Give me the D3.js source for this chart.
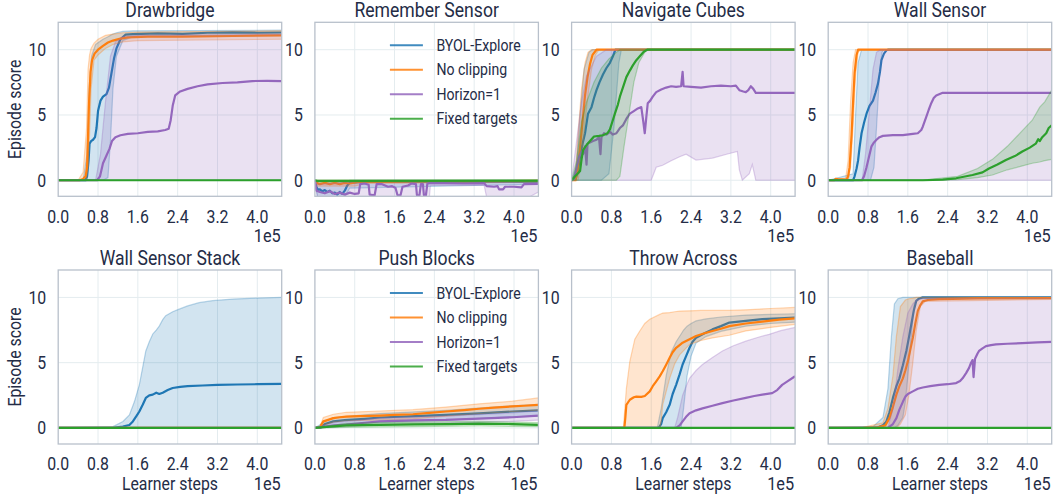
<!DOCTYPE html>
<html>
<head>
<meta charset="utf-8">
<script src="https://cdn.jsdelivr.net/npm/d3@7"></script>
<style>
  html, body { margin: 0; padding: 0; background: #ffffff; }
  svg { display: block; }
</style>
</head>
<body>
<svg id="chart" width="1055" height="496"></svg>
<script>
// ---------- labels and ticks ----------
const panelTitles = ["Drawbridge", "Remember Sensor", "Navigate Cubes", "Wall Sensor",
                     "Wall Sensor Stack", "Push Blocks", "Throw Across", "Baseball"];
const seriesNames = ["BYOL-Explore", "No clipping", "Horizon=1", "Fixed targets"];
const seriesColors = ["#1f77b4", "#ff7f0e", "#9467bd", "#2ca02c"];
const xTicks = [0.0, 0.8, 1.6, 2.4, 3.2, 4.0];
const xTickLabels = ["0.0", "0.8", "1.6", "2.4", "3.2", "4.0"];
const yTicks = [0, 5, 10];
const xLabel = "Learner steps";
const yLabel = "Episode score";
const xExponent = "1e5";

// ---------- series: mean [step(1e5), score], band [step, low, high] ----------
const flatZero = [[0, 0], [4.49, 0]];
const flatZeroBand = [[0, 0, 0], [4.49, 0, 0]];

// Drawbridge
const drawbridge_byol = [[0,0],[0.55,0],[0.58,0.3],[0.61,1.5],[0.63,2.8],[0.66,3.0],[0.7,3.1],[0.74,3.3],[0.77,4.0],[0.8,5.3],[0.85,6.1],[0.9,6.4],[0.97,6.6],[1.02,7.1],[1.07,8.2],[1.12,9.3],[1.17,10.1],[1.25,10.8],[1.35,11.15],[1.5,11.2],[2.0,11.25],[2.5,11.22],[3.0,11.3],[3.5,11.33],[4.0,11.3],[4.49,11.32]];
const drawbridge_byol_band = [[0,0,0],[0.5,0,0],[0.58,0,2],[0.62,0,7],[0.67,0,9.5],[0.75,0,10.4],[0.9,0,10.8],[1.0,0.2,11.0],[1.05,3,11.1],[1.1,7,11.2],[1.17,9.5,11.3],[1.3,10.7,11.4],[1.5,11.0,11.45],[4.49,11.1,11.5]];
const drawbridge_noclip = [[0,0],[0.43,0],[0.5,0.1],[0.55,0.3],[0.58,1],[0.6,3.5],[0.62,6],[0.65,8.3],[0.68,9.2],[0.73,9.7],[0.8,10.0],[0.9,10.3],[1.0,10.55],[1.1,10.7],[1.25,10.85],[1.4,10.95],[1.8,11.0],[2.5,11.0],[3.5,11.05],[4.49,11.1]];
const drawbridge_noclip_band = [[0,0,0],[0.4,0,0],[0.5,0,0.6],[0.57,0.1,4],[0.6,1,8.5],[0.63,3.5,9.6],[0.66,7,10.1],[0.72,9.2,10.5],[0.8,9.6,10.8],[0.95,10.1,11.1],[1.1,10.4,11.2],[1.3,10.6,11.3],[1.6,10.7,11.35],[4.49,10.8,11.45]];
const drawbridge_horizon = [[0,0],[0.78,0],[0.84,0.3],[0.9,1.3],[0.97,1.9],[1.03,2.4],[1.08,3.0],[1.15,3.3],[1.25,3.45],[1.4,3.55],[1.6,3.6],[1.8,3.7],[2.0,3.75],[2.15,3.85],[2.22,3.95],[2.26,4.6],[2.3,5.7],[2.35,6.5],[2.45,6.8],[2.6,7.0],[2.8,7.2],[3.0,7.35],[3.3,7.45],[3.6,7.5],[3.9,7.6],[4.2,7.62],[4.49,7.6]];
const drawbridge_horizon_band = [[0,0,0],[0.75,0,0],[0.85,0,2],[0.95,0,6],[1.05,0,9.5],[1.15,0,10.6],[1.3,0,11.0],[1.6,0,11.1],[4.49,0,11.2]];

// Remember Sensor
const remember_byol = [[0,0],[0.03,-0.5],[0.06,-0.75],[0.1,-0.7],[0.15,-0.85],[0.2,-0.75],[0.25,-0.9],[0.3,-0.8],[0.35,-1.0],[0.4,-0.95],[0.45,-1.1],[0.5,-0.9],[0.55,-1.05],[0.6,-0.8],[0.65,-0.4],[0.7,-0.2],[1.0,-0.1],[4.49,-0.1]];
const remember_byol_band = [[0,0,0],[0.05,-1.3,-0.1],[0.6,-1.3,-0.1],[0.7,-0.6,0],[4.49,-0.3,0]];
const remember_noclip = [[0,0],[0.03,-0.2],[0.1,-0.3],[0.2,-0.2],[0.3,-0.3],[0.4,-0.2],[0.5,-0.3],[0.6,-0.2],[0.7,-0.25],[0.85,-0.15],[1.0,-0.1],[1.5,-0.12],[2.0,-0.08],[4.49,-0.05]];
const remember_noclip_band = [[0,0,0],[0.05,-0.45,0],[0.8,-0.45,0],[1.0,-0.25,0],[4.49,-0.15,0]];
const remember_horizon = [[0,0],[0.03,-0.8],[0.1,-0.9],[0.2,-1.0],[0.3,-0.85],[0.4,-1.05],[0.5,-0.95],[0.6,-1.1],[0.7,-0.95],[0.8,-1.05],[0.88,-1.0],[0.91,-0.3],[1.0,-0.25],[1.08,-0.35],[1.1,-1.1],[1.2,-1.15],[1.24,-0.3],[1.35,-0.3],[1.47,-0.5],[1.55,-0.45],[1.62,-0.6],[1.66,-1.15],[1.72,-1.15],[1.76,-0.5],[1.87,-0.4],[1.94,-0.25],[2.03,-0.3],[2.05,-1.15],[2.1,-1.15],[2.13,-0.3],[2.17,-0.3],[2.19,-1.15],[2.23,-1.15],[2.26,-0.25],[2.31,-0.22],[2.6,-0.22],[3.0,-0.25],[3.4,-0.22],[3.45,-0.45],[3.6,-0.5],[3.67,-0.45],[3.7,-0.7],[3.78,-0.7],[3.82,-0.5],[4.0,-0.5],[4.15,-0.55],[4.2,-0.3],[4.49,-0.28]];
const remember_horizon_band = [[0,0,0],[0.05,-1.3,-0.3],[0.9,-1.3,-0.1],[2.3,-1.3,-0.1],[2.32,-0.4,-0.1],[3.4,-0.4,-0.1],[3.45,-1.3,-0.15],[4.3,-1.3,-0.1],[4.49,-0.9,-0.1]];
const remember_fixed = [[0,0],[0.05,-0.05],[4.49,-0.03]];
const remember_fixed_band = [[0,0,0],[0.05,-0.12,0],[4.49,-0.1,0]];

// Navigate Cubes
const navigate_byol = [[0,0],[0.08,0.1],[0.12,0.6],[0.17,1.8],[0.22,2.8],[0.27,3.6],[0.33,5.1],[0.4,5.6],[0.45,6.3],[0.5,6.9],[0.56,7.5],[0.63,8.1],[0.7,8.6],[0.77,9.0],[0.83,9.5],[0.88,10.0],[4.49,10.0]];
const navigate_byol_band = [[0,0,0],[0.1,0,1],[0.17,0,5],[0.25,0,8.5],[0.35,0,9.8],[0.42,0,10],[0.6,0,10],[0.75,0.5,10],[0.85,4,10],[0.95,9,10],[1.0,10,10],[4.49,10,10]];
const navigate_noclip = [[0,0],[0.08,0],[0.12,0.8],[0.17,2.5],[0.22,4.5],[0.27,6.5],[0.32,7.9],[0.37,8.9],[0.42,9.6],[0.5,10],[4.49,10]];
const navigate_noclip_band = [[0,0,0],[0.08,0,0.5],[0.13,0,3.5],[0.2,1.5,7],[0.27,4.5,9],[0.33,6.5,9.8],[0.4,8.5,10],[0.48,9.6,10],[0.55,10,10],[4.49,10,10]];
const navigate_horizon = [[0,0],[0.05,0.1],[0.1,1.0],[0.15,1.8],[0.2,2.2],[0.23,2.0],[0.27,2.6],[0.3,1.2],[0.32,2.8],[0.37,2.9],[0.43,3.0],[0.5,3.1],[0.55,3.3],[0.58,2.0],[0.6,3.3],[0.65,3.6],[0.7,3.5],[0.77,3.7],[0.83,3.5],[0.9,3.6],[0.97,4.0],[1.03,4.2],[1.1,4.7],[1.17,5.1],[1.25,5.3],[1.33,5.5],[1.4,5.6],[1.44,4.5],[1.47,3.6],[1.5,4.8],[1.53,5.9],[1.58,6.1],[1.63,6.4],[1.7,6.75],[1.8,6.95],[1.9,7.1],[2.0,7.2],[2.1,7.15],[2.2,7.2],[2.23,8.3],[2.25,7.2],[2.4,7.15],[2.6,7.1],[2.8,7.2],[3.0,7.25],[3.2,7.2],[3.3,7.25],[3.37,6.9],[3.45,6.8],[3.5,6.75],[3.55,6.9],[3.6,7.2],[3.65,7.0],[3.7,6.7],[4.0,6.7],[4.49,6.7]];
const navigate_horizon_band = [[0,0,0],[0.1,0,3],[0.2,0,6],[0.3,0,8],[0.5,0,9.5],[0.7,0,10],[1.6,0,10],[1.63,0.3,10],[1.7,1.0,10],[1.83,1.15,10],[2.0,1.5,10],[2.17,1.8,10],[2.3,2.0,10],[2.5,1.55,10],[2.83,1.7,10],[3.17,2.05,10],[3.33,2.2,10],[3.37,0.8,10],[3.43,0,10],[3.57,0.5,10],[3.63,1.2,10],[3.7,0,10],[4.49,0,10]];
const navigate_fixed = [[0,0],[0.07,0.3],[0.12,0.5],[0.17,0.7],[0.2,1.6],[0.23,2.3],[0.3,2.7],[0.37,3.0],[0.45,3.35],[0.55,3.4],[0.63,3.45],[0.72,3.6],[0.77,3.9],[0.82,4.5],[0.87,5.1],[0.93,5.8],[0.97,6.4],[1.03,7.1],[1.1,7.9],[1.17,8.4],[1.23,8.8],[1.3,9.2],[1.37,9.5],[1.45,9.85],[1.52,10],[4.49,10]];
const navigate_fixed_band = [[0,0,0],[0.1,0,1.5],[0.2,0,4.5],[0.3,0,6],[0.45,0,7.5],[0.6,0,8.6],[0.75,0,9.3],[0.9,0,9.8],[0.97,0.3,10],[1.05,2.5,10],[1.15,5,10],[1.25,7.5,10],[1.35,9,10],[1.5,10,10],[4.49,10,10]];

// Wall Sensor
const wall_byol = [[0,0],[0.5,0],[0.53,0.3],[0.57,0.9],[0.6,1.5],[0.63,2.5],[0.67,3.6],[0.72,4.4],[0.77,5.1],[0.83,5.7],[0.9,6.1],[0.95,6.7],[1.0,7.4],[1.04,8.3],[1.07,9.2],[1.12,9.7],[1.17,9.95],[1.2,10],[4.49,10]];
const wall_byol_band = [[0,0,0],[0.5,0,0.5],[0.55,0,5],[0.6,0,9],[0.67,0,10],[0.85,0,10],[0.92,1,10],[0.97,4,10],[1.03,8,10],[1.08,9.8,10],[1.12,10,10],[4.49,10,10]];
const wall_noclip = [[0,0],[0.12,0],[0.15,0.1],[0.2,0.08],[0.37,0.05],[0.4,0.3],[0.43,1.0],[0.47,3.5],[0.5,6.0],[0.53,8.2],[0.57,9.6],[0.6,10],[4.49,10]];
const wall_noclip_band = [[0,0,0],[0.35,0,0.1],[0.4,0,1.5],[0.45,1,6],[0.5,4,9],[0.55,8,10],[0.6,9.8,10],[0.65,10,10],[4.49,10,10]];
const wall_horizon = [[0,0],[0.68,0],[0.72,0.3],[0.77,1.0],[0.82,1.8],[0.87,2.6],[0.92,2.9],[0.97,3.1],[1.03,3.3],[1.1,3.4],[1.3,3.45],[1.5,3.45],[1.7,3.55],[1.8,3.6],[1.87,3.85],[1.9,4.1],[1.97,4.85],[2.02,5.4],[2.07,5.9],[2.12,6.3],[2.17,6.5],[2.3,6.7],[4.49,6.7]];
const wall_horizon_band = [[0,0,0],[0.68,0,0],[0.75,0,2],[0.82,0,5],[0.9,0,8.5],[0.97,0,9.8],[1.05,0,10],[4.49,0,10]];
const wall_fixed = [[0,0],[1.9,0],[2.3,0.05],[2.57,0.15],[2.9,0.4],[3.1,0.6],[3.23,0.9],[3.4,1.2],[3.57,1.55],[3.75,1.85],[3.9,2.2],[4.05,2.5],[4.17,2.8],[4.22,3.15],[4.25,3.0],[4.3,3.3],[4.38,3.6],[4.43,4.0],[4.49,4.2]];
const wall_fixed_band = [[0,0,0],[2.0,0,0.05],[2.6,0.05,0.3],[3.0,0.2,0.9],[3.3,0.4,1.6],[3.6,0.8,2.6],[3.9,1.1,3.8],[4.1,1.3,4.6],[4.25,1.4,5.6],[4.35,1.5,6.0],[4.49,1.6,6.9]];

// Wall Sensor Stack
const stack_byol = [[0,0],[1.1,0],[1.3,0.1],[1.43,0.23],[1.5,0.5],[1.57,0.9],[1.63,1.26],[1.7,1.8],[1.76,2.3],[1.83,2.5],[1.9,2.55],[1.97,2.7],[2.03,2.6],[2.1,2.7],[2.2,2.9],[2.3,3.06],[2.45,3.15],[2.6,3.2],[2.9,3.25],[3.2,3.3],[3.6,3.33],[4.0,3.35],[4.49,3.37]];
const stack_byol_band = [[0,0,0],[1.1,0,0.1],[1.3,0,0.5],[1.43,0,1.0],[1.53,0,2.0],[1.63,0,3.3],[1.7,0,4.7],[1.76,0,5.9],[1.83,0,6.6],[1.9,0,7.2],[1.97,0,7.5],[2.03,0,7.8],[2.1,0,8.3],[2.16,0,8.6],[2.3,0,8.9],[2.43,0,9.1],[2.6,0,9.35],[2.83,0,9.6],[3.1,0,9.75],[3.5,0,9.87],[4.0,0,9.95],[4.49,0,10.0]];

// Push Blocks
const push_byol = [[0,0],[0.12,0.05],[0.2,0.3],[0.37,0.5],[0.6,0.6],[1.0,0.7],[1.3,0.8],[2.0,0.9],[2.63,1.0],[3.3,1.12],[3.97,1.26],[4.49,1.34]];
const push_byol_band = [[0,0,0],[0.2,0.1,0.5],[0.37,0.2,0.8],[1.3,0.45,1.1],[2.63,0.6,1.35],[3.97,0.85,1.7],[4.49,0.9,1.8]];
const push_noclip = [[0,0],[0.1,0.05],[0.17,0.5],[0.25,0.6],[0.37,0.75],[0.5,0.82],[0.63,0.87],[0.9,0.9],[1.3,0.95],[1.6,1.0],[1.97,1.05],[2.3,1.15],[2.63,1.26],[3.0,1.37],[3.3,1.47],[3.6,1.55],[3.97,1.65],[4.2,1.7],[4.49,1.77]];
const push_noclip_band = [[0,0,0],[0.1,0,0.1],[0.17,0.2,0.8],[0.37,0.45,1.05],[0.63,0.55,1.2],[1.3,0.6,1.3],[1.97,0.7,1.4],[2.63,0.9,1.6],[3.3,1.1,1.85],[3.97,1.25,2.05],[4.49,1.35,2.3]];
const push_horizon = [[0,0],[0.2,0.1],[0.4,0.2],[0.63,0.25],[1.0,0.4],[1.3,0.5],[2.0,0.58],[2.63,0.62],[3.3,0.72],[3.97,0.82],[4.49,0.95]];
const push_horizon_band = [[0,0,0],[0.4,0.05,0.4],[1.3,0.25,0.75],[2.63,0.35,0.9],[3.97,0.5,1.15],[4.49,0.6,1.3]];
const push_fixed = [[0,0],[0.3,0.1],[0.63,0.2],[1.3,0.23],[2.0,0.28],[2.7,0.3],[3.3,0.33],[3.97,0.3],[4.49,0.23]];
const push_fixed_band = [[0,0,0],[0.63,0.05,0.35],[2.0,0.1,0.45],[3.3,0.15,0.5],[4.49,0.1,0.4]];

// Throw Across
const throw_byol = [[0,0],[1.75,0],[1.8,0.3],[1.83,0.75],[1.9,1.2],[1.97,1.77],[2.03,2.6],[2.1,3.3],[2.17,4.1],[2.23,4.86],[2.3,5.5],[2.37,6.14],[2.43,6.6],[2.5,6.9],[2.67,7.25],[2.83,7.55],[3.0,7.8],[3.17,8.07],[3.5,8.2],[3.83,8.33],[4.17,8.4],[4.49,8.46]];
const throw_byol_band = [[0,0,0],[1.72,0,0],[1.8,0,1.5],[1.9,0,4],[2.0,0,5.8],[2.1,0,6.6],[2.2,0,7.2],[2.25,1.5,7.5],[2.32,4,7.8],[2.4,5.5,8.0],[2.5,6.5,8.2],[2.7,7.0,8.35],[3.0,7.4,8.5],[3.5,7.8,8.65],[4.0,8.0,8.7],[4.49,8.1,8.75]];
const throw_noclip = [[0,0],[1.06,0],[1.08,0.8],[1.1,1.77],[1.17,2.16],[1.25,2.35],[1.3,2.4],[1.4,2.38],[1.47,2.45],[1.57,2.8],[1.63,3.2],[1.7,3.57],[1.77,3.95],[1.83,4.34],[1.9,4.85],[1.97,5.37],[2.03,5.8],[2.1,6.14],[2.17,6.35],[2.23,6.53],[2.37,6.8],[2.5,7.04],[2.67,7.25],[2.83,7.43],[3.0,7.6],[3.17,7.8],[3.5,8.0],[3.83,8.15],[4.17,8.3],[4.49,8.4]];
const throw_noclip_band = [[0,0,0],[1.04,0,0],[1.1,0,3.0],[1.17,0,5.1],[1.27,0,6.8],[1.37,0,7.43],[1.47,0,8.0],[1.57,0,8.33],[1.77,0,8.7],[1.8,0.5,8.75],[1.83,1.77,8.8],[1.97,3.8,8.84],[2.07,4.9,8.9],[2.17,5.6,8.95],[2.37,6.4,8.97],[2.6,6.7,9.0],[2.83,6.9,9.0],[3.17,7.1,9.0],[3.5,7.43,9.05],[4.0,7.7,9.15],[4.49,7.94,9.23]];
const throw_horizon = [[0,0],[2.1,0],[2.17,0.2],[2.23,0.5],[2.3,0.85],[2.37,1.13],[2.5,1.35],[2.63,1.5],[2.83,1.7],[3.03,1.9],[3.25,2.1],[3.5,2.3],[3.67,2.45],[3.83,2.55],[4.03,2.67],[4.13,2.9],[4.23,3.3],[4.35,3.6],[4.49,3.96]];
const throw_horizon_band = [[0,0,0],[2.07,0,0],[2.13,0,0.8],[2.23,0,2.5],[2.3,0,3.2],[2.37,0,3.8],[2.5,0,4.4],[2.63,0,4.86],[2.83,0,5.4],[3.03,0,5.9],[3.25,0,6.3],[3.5,0,6.65],[3.75,0,6.95],[3.97,0,7.17],[4.2,0,7.45],[4.49,0,7.7]];

// Baseball
const baseball_byol = [[0,0],[0.9,0],[1.0,0.05],[1.1,0.2],[1.17,0.5],[1.23,1.2],[1.3,2.3],[1.37,3.2],[1.43,3.8],[1.5,4.8],[1.57,5.9],[1.62,6.9],[1.67,7.94],[1.72,9.0],[1.77,9.74],[1.83,9.92],[1.9,10],[4.49,10]];
const baseball_byol_band = [[0,0,0],[0.9,0,0.1],[1.1,0,0.8],[1.2,0,3],[1.27,0,7],[1.33,0,9.5],[1.4,0.2,9.9],[1.5,0.8,10],[1.55,2,10],[1.6,4,10],[1.67,7,10],[1.73,9.5,10],[1.8,9.9,10],[4.49,10,10]];
const baseball_noclip = [[0,0],[0.7,0],[1.0,0.05],[1.15,0.2],[1.23,0.75],[1.3,1.6],[1.37,2.55],[1.43,3.2],[1.5,3.8],[1.55,4.4],[1.6,5.1],[1.65,6.0],[1.7,6.9],[1.75,8.0],[1.8,8.97],[1.85,9.4],[1.9,9.7],[2.0,9.8],[2.23,9.87],[3.0,9.92],[4.49,9.95]];
const baseball_noclip_band = [[0,0,0],[0.7,0,0.05],[1.1,0,0.4],[1.2,0,1.5],[1.3,0,4],[1.37,0,7],[1.45,0.3,9.3],[1.55,1,9.8],[1.62,2.5,9.9],[1.7,5,9.95],[1.77,7.5,10],[1.85,9.3,10],[1.95,9.7,10],[4.49,9.85,10]];
const baseball_horizon = [[0,0],[1.2,0],[1.3,0.3],[1.37,0.75],[1.43,1.4],[1.5,2.0],[1.55,2.4],[1.6,2.6],[1.7,2.8],[1.8,3.0],[1.9,3.1],[2.05,3.2],[2.23,3.3],[2.4,3.35],[2.57,3.44],[2.65,3.6],[2.7,3.8],[2.77,4.2],[2.83,4.6],[2.87,5.0],[2.9,5.2],[2.92,3.9],[2.95,5.3],[3.0,5.7],[3.03,5.9],[3.1,6.1],[3.17,6.27],[3.27,6.35],[3.37,6.4],[3.6,6.45],[3.9,6.5],[4.2,6.55],[4.49,6.6]];
const baseball_horizon_band = [[0,0,0],[1.2,0,0],[1.3,0,1.5],[1.4,0,4.5],[1.5,0,7],[1.6,0,8.8],[1.7,0,9.5],[1.77,0,9.8],[1.9,0,9.9],[4.49,0,9.95]];

// panel -> [mean, band] for each series in legend order
const panelSeries = [
  [[drawbridge_byol, drawbridge_byol_band], [drawbridge_noclip, drawbridge_noclip_band], [drawbridge_horizon, drawbridge_horizon_band], [flatZero, flatZeroBand]],
  [[remember_byol, remember_byol_band], [remember_noclip, remember_noclip_band], [remember_horizon, remember_horizon_band], [remember_fixed, remember_fixed_band]],
  [[navigate_byol, navigate_byol_band], [navigate_noclip, navigate_noclip_band], [navigate_horizon, navigate_horizon_band], [navigate_fixed, navigate_fixed_band]],
  [[wall_byol, wall_byol_band], [wall_noclip, wall_noclip_band], [wall_horizon, wall_horizon_band], [wall_fixed, wall_fixed_band]],
  [[stack_byol, stack_byol_band], [flatZero, flatZeroBand], [flatZero, flatZeroBand], [flatZero, flatZeroBand]],
  [[push_byol, push_byol_band], [push_noclip, push_noclip_band], [push_horizon, push_horizon_band], [push_fixed, push_fixed_band]],
  [[throw_byol, throw_byol_band], [throw_noclip, throw_noclip_band], [throw_horizon, throw_horizon_band], [flatZero, flatZeroBand]],
  [[baseball_byol, baseball_byol_band], [baseball_noclip, baseball_noclip_band], [baseball_horizon, baseball_horizon_band], [flatZero, flatZeroBand]]
];
const legendPanels = [1, 5];

// ---------- layout ----------
const colLeft = [58.2, 314.9, 571.6, 828.2];
const rowTop = [22.3, 270];
const plotW = 223.5, plotH = 174;
const xDomain = [0, 4.49];
const yDomain = [-1.23, 12.1];
const textColor = "#242c46";
const frameColor = "#b8c0cb";
const gridColor = "#e4ecef";
const fontFamily = "Roboto, 'Noto Sans', sans-serif";
const squeeze = 0.88;   // horizontal condensing of all text

const svg = d3.select("#chart");

function label(parent, x, y, str, size, anchor, rotate) {
  const g = parent.append("g")
    .attr("transform", `translate(${x},${y})` + (rotate ? ` rotate(${rotate})` : "") + ` scale(${squeeze},1)`);
  g.append("text")
    .attr("x", 0).attr("y", 0)
    .attr("text-anchor", anchor)
    .attr("font-family", fontFamily)
    .attr("font-size", size)
    .attr("fill", textColor)
    .text(str);
  return g;
}

panelTitles.forEach((title, p) => {
  const row = Math.floor(p / 4), col = p % 4;
  const left = colLeft[col], top = rowTop[row];
  const x = d3.scaleLinear().domain(xDomain).range([left, left + plotW]);
  const y = d3.scaleLinear().domain(yDomain).range([top + plotH, top]);
  const g = svg.append("g");

  // clip region
  const clipId = "clip" + p;
  svg.append("clipPath").attr("id", clipId)
    .append("rect").attr("x", left).attr("y", top).attr("width", plotW).attr("height", plotH);

  // grid
  const grid = g.append("g");
  grid.selectAll("line.v").data(xTicks.filter(t => t > 0)).join("line")
    .attr("x1", d => x(d)).attr("x2", d => x(d))
    .attr("y1", top).attr("y2", top + plotH)
    .attr("stroke", gridColor).attr("stroke-width", 1);
  grid.selectAll("line.h").data(yTicks).join("line")
    .attr("x1", left).attr("x2", left + plotW)
    .attr("y1", d => y(d)).attr("y2", d => y(d))
    .attr("stroke", gridColor).attr("stroke-width", 1);

  // series
  const plot = g.append("g").attr("clip-path", `url(#${clipId})`);
  const area = d3.area().x(d => x(d[0])).y0(d => y(d[1])).y1(d => y(d[2]));
  const lowLine = d3.line().x(d => x(d[0])).y(d => y(d[1]));
  const highLine = d3.line().x(d => x(d[0])).y(d => y(d[2]));
  const meanLine = d3.line().x(d => x(d[0])).y(d => y(d[1]));

  panelSeries[p].forEach(([mean, band], s) => {
    const c = seriesColors[s];
    plot.append("path").datum(band).attr("d", area)
      .attr("fill", c).attr("fill-opacity", 0.2).attr("stroke", "none");
    plot.append("path").datum(band).attr("d", lowLine)
      .attr("fill", "none").attr("stroke", c).attr("stroke-opacity", 0.3).attr("stroke-width", 1.2);
    plot.append("path").datum(band).attr("d", highLine)
      .attr("fill", "none").attr("stroke", c).attr("stroke-opacity", 0.3).attr("stroke-width", 1.2);
    plot.append("path").datum(mean).attr("d", meanLine)
      .attr("fill", "none").attr("stroke", c).attr("stroke-width", 2.2)
      .attr("stroke-linejoin", "round");
  });

  // frame
  g.append("rect").attr("x", left).attr("y", top).attr("width", plotW).attr("height", plotH)
    .attr("fill", "none").attr("stroke", frameColor).attr("stroke-width", 1.3);

  // tick labels
  yTicks.forEach(t => label(g, left - 12, y(t) + 6.3, String(t), 18, "end"));
  xTicks.forEach((t, i) => label(g, x(t), top + plotH + 26.3, xTickLabels[i], 18, "middle"));
  label(g, left + plotW - 1, top + plotH + 45.5, xExponent, 18.5, "end");

  // title and axis names
  label(g, left + plotW / 2, top - 5, title, 20, "middle");
  if (row === 1) label(g, left + plotW / 2, top + plotH + 45.7, xLabel, 18, "middle");
  if (col === 0) label(g, 21, top + plotH / 2, yLabel, 18, "middle", -90);

  // legend
  if (legendPanels.includes(p)) {
    const lg = g.append("g");
    seriesNames.forEach((name, s) => {
      const ly = top + 23 + s * 24.5;
      lg.append("line").attr("x1", left + 75).attr("x2", left + 108)
        .attr("y1", ly).attr("y2", ly)
        .attr("stroke", seriesColors[s]).attr("stroke-width", 2).attr("stroke-opacity", 0.85);
      label(lg, left + 121.5, ly + 5.6, name, 16, "start");
    });
  }
});
</script>
</body>
</html>
